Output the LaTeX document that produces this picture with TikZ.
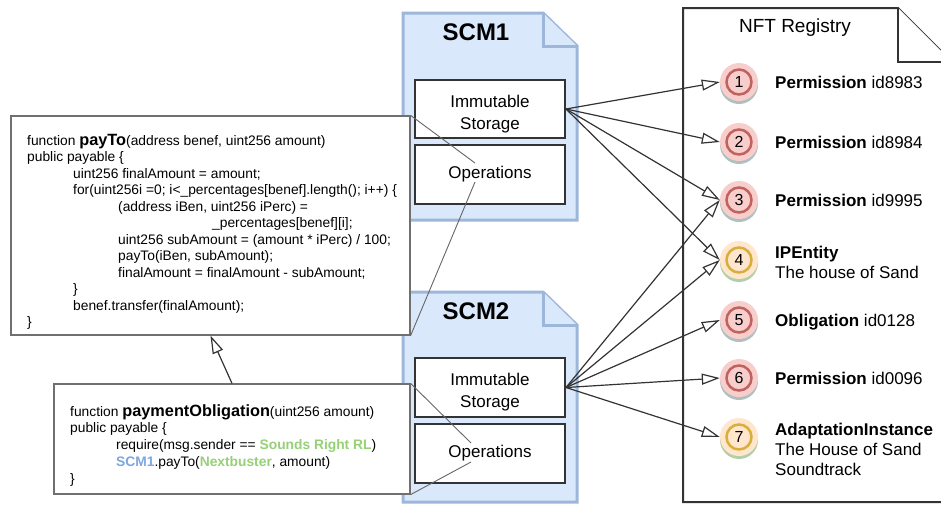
\documentclass[tikz,border=0pt]{standalone}
\usepackage{fontspec}
\setmainfont{Liberation Sans}
\usetikzlibrary{arrows.meta}
\definecolor{scmfill}{HTML}{DAE8FC}
\definecolor{scmborder}{HTML}{9DB7DA}
\definecolor{boxdark}{HTML}{333333}
\definecolor{codegray}{HTML}{707070}
\definecolor{callgray}{HTML}{666666}
\definecolor{pinkfill}{HTML}{F8CECC}
\definecolor{pinkring}{HTML}{C0625E}
\definecolor{pinkshadow}{HTML}{AFC0BF}
\definecolor{orfill}{HTML}{FFE6CC}
\definecolor{orring}{HTML}{D9AE3C}
\definecolor{orshadow}{HTML}{B3CFA8}
\definecolor{codegreen}{HTML}{97D077}
\definecolor{codeblue}{HTML}{7EA6E0}
\tikzset{
  folder/.style={fill=scmfill, draw=scmborder, line width=3pt, line join=miter},
  storebox/.style={draw=boxdark, fill=white, line width=2pt, minimum width=150pt, align=center, font=\fontsize{17}{22}\selectfont},
  storetext/.style={inner sep=0pt, align=center, font=\fontsize{17}{22}\selectfont},
  codebox/.style={draw=codegray, fill=white, line width=1.2pt},
  codetext/.style={inner sep=0pt, align=left, anchor=north west},
  conn/.style={draw=boxdark, line width=1.2pt, -{Triangle[open, length=18pt, width=11pt]}},
  callout/.style={draw=callgray, line width=0.9pt},
  registry/.style={draw=boxdark, fill=white, line width=2pt, line join=miter},
  tokpink/.style={circle, fill=pinkfill, minimum size=38pt, inner sep=0pt, font=\fontsize{16}{16}\selectfont},
  tokor/.style={circle, fill=orfill, minimum size=38pt, inner sep=0pt, font=\fontsize{16}{16}\selectfont},
  toklabel/.style={inner sep=0pt, align=left, font=\fontsize{17}{20}\selectfont}
}
\begin{document}
\begin{tikzpicture}[x=1pt, y=-1pt]
\useasboundingbox (0,0) rectangle (941,504);
\clip (0,0) rectangle (941,504);
\fill[white] (0,0) rectangle (941,504);
% SCM folders
\draw[folder] (403,13) -- (543,13) -- (577,46) -- (577,220) -- (403,220) -- cycle;
\draw[folder] (543,13) -- (543,46) -- (577,46);
\node[anchor=base, font=\fontsize{24}{24}\selectfont\bfseries] (scm1title) at (476,40) {SCM1};
\draw[folder] (403,292) -- (543,292) -- (577,325) -- (577,502) -- (403,502) -- cycle;
\draw[folder] (543,292) -- (543,325) -- (577,325);
\node[anchor=base, font=\fontsize{24}{24}\selectfont\bfseries] (scm2title) at (476,319) {SCM2};
% storage boxes
\node[storebox, minimum height=58pt] (store1) at (490,109) {};
\node[storetext] (store1txt) at (490,114) {Immutable\\Storage};
\node[storebox, minimum height=59pt] (ops1) at (490,174.5) {Operations};
\node[storebox, minimum height=59pt] (store2) at (490,387.5) {};
\node[storetext] (store2txt) at (490,392.5) {Immutable\\Storage};
\node[storebox, minimum height=59pt] (ops2) at (490,453.5) {Operations};
% code boxes
\node[codebox, minimum width=399pt, minimum height=219pt] (code1) at (210.5,225.5) {};
\node[codetext, font=\fontsize{13.8}{16.5}\selectfont] (text1) at (27,134) {function {\fontsize{16.3}{16}\selectfont\bfseries payTo}(address benef, uint256 amount)\\
public payable \{\\
\hspace*{46pt}uint256 finalAmount = amount;\\
\hspace*{46pt}for(uint256i =0; i<\_percentages[benef].length(); i++) \{\\
\hspace*{91pt}(address iBen, uint256 iPerc) =\\
\hspace*{185pt}\_percentages[benef][i];\\
\hspace*{91pt}uint256 subAmount = (amount * iPerc) / 100;\\
\hspace*{91pt}payTo(iBen, subAmount);\\
\hspace*{91pt}finalAmount = finalAmount - subAmount;\\
\hspace*{46pt}\}\\
\hspace*{46pt}benef.transfer(finalAmount);\\
\}};
\node[codebox, minimum width=356pt, minimum height=110pt] (code2) at (232,439) {};
\node[codetext, font=\fontsize{13.8}{16.8}\selectfont] (text2) at (70,404) {function {\fontsize{16.3}{16}\selectfont\bfseries paymentObligation}(uint256 amount)\\
public payable \{\\
\hspace*{46pt}require(msg.sender == \textbf{\color{codegreen}Sounds Right RL})\\
\hspace*{46pt}\textbf{\color{codeblue}SCM1}.payTo(\textbf{\color{codegreen}Nextbuster}, amount)\\
\}};
% callout lines
\coordinate (o1a) at (475,163);
\coordinate (o1b) at (475,182);
\coordinate (o2a) at (471,443);
\coordinate (o2b) at (471,462);
\draw[callout] (code1.north east) -- (o1a);
\draw[callout] (o1b) -- (code1.south east);
\draw[callout] (code2.north east) -- (o2a);
\draw[callout] (o2b) -- (code2.south east);
% inheritance arrow
\draw[conn] (code2.north) -- (code1.south);
% registry
\draw[registry] (683,8) -- (898,8) -- (952,62) -- (952,502) -- (683,502) -- cycle;
\draw[registry] (898,8) -- (898,62) -- (952,62);
\node[anchor=base, font=\fontsize{19}{19}\selectfont] (regtitle) at (795,32) {NFT Registry};
% tokens
\foreach \cy/\col in {82/pink,142/pink,200/pink,260/or,320/pink,378/pink,437/or}{
  \fill[\col shadow] (739,\cy+3) circle (19pt);
}
\node[tokpink] (c1) at (739,82) {1};
\node[tokpink] (c2) at (739,142) {2};
\node[tokpink] (c3) at (739,200) {3};
\node[tokor] (c4) at (739,260) {4};
\node[tokpink] (c5) at (739,320) {5};
\node[tokpink] (c6) at (739,378) {6};
\node[tokor] (c7) at (739,437) {7};
\foreach \n/\col in {1/pink,2/pink,3/pink,4/or,5/pink,6/pink,7/or}{
  \draw[\col ring, line width=2.5pt] (c\n.center) circle (12.5pt);
}
% arrows
\draw[conn] (store1.east) -- (c1.west);
\draw[conn] (store1.east) -- (c2.west);
\draw[conn] (store1.east) -- (c3.west);
\draw[conn] (store1.east) -- (c4.west);
\draw[conn] (store2.east) -- (c3.west);
\draw[conn] (store2.east) -- (c4.west);
\draw[conn] (store2.east) -- (c5.west);
\draw[conn] (store2.east) -- (c6.west);
\draw[conn] (store2.east) -- (c7.west);
% labels
\node[toklabel, anchor=base west] (l1) at (775,88) {\textbf{Permission} id8983};
\node[toklabel, anchor=base west] (l2) at (775,148) {\textbf{Permission} id8984};
\node[toklabel, anchor=base west] (l3) at (775,206) {\textbf{Permission} id9995};
\node[toklabel, anchor=north west] (l4) at (775,246) {\textbf{IPEntity}\\The house of Sand};
\node[toklabel, anchor=base west] (l5) at (775,326) {\textbf{Obligation} id0128};
\node[toklabel, anchor=base west] (l6) at (775,384) {\textbf{Permission} id0096};
\node[toklabel, anchor=north west] (l7) at (775,423) {\textbf{AdaptationInstance}\\The House of Sand\\Soundtrack};
\end{tikzpicture}
\end{document}
